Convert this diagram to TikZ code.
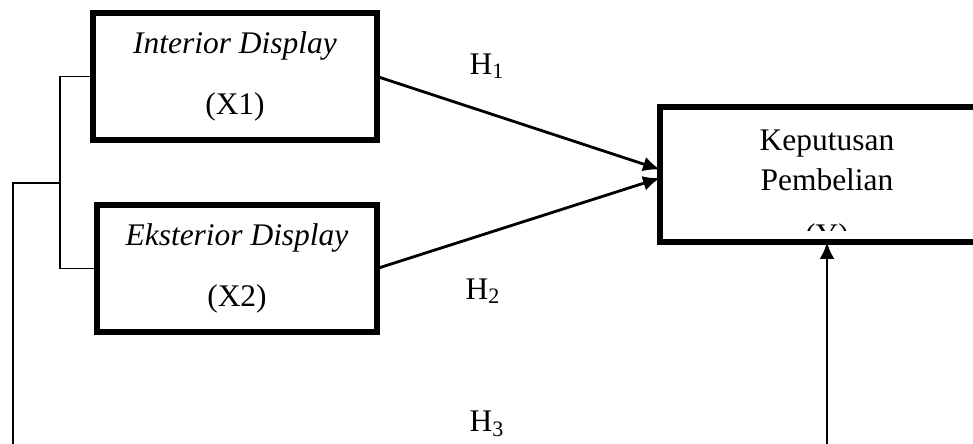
\documentclass[tikz,border=0pt]{standalone}
\usepackage{fontspec}
\setmainfont{Liberation Serif}
\usetikzlibrary{scopes,calc,positioning,arrows.meta}

\begin{document}
\begin{tikzpicture}[
    every node/.style = {font=\fontsize{17.9}{22.8}\selectfont},
    % Variable boxes
    varbox/.style  = {draw, line width=3pt, outer sep=0pt,
                      minimum height=2.54cm, align=center},
    kbox/.style    = {draw, line width=3pt, outer sep=0pt,
                      minimum width=6.68cm, minimum height=2.7cm},
    % Lines, arrows
    link/.style    = {line width=1.6pt, -{Latex[length=3.4mm,width=3mm]}},
    bracket/.style = {line width=1pt},
    hlabel/.style  = {inner sep=0pt}
  ]
\useasboundingbox (0,0) rectangle (19.46,8.86);
\clip (0,0) rectangle (19.46,8.86);

\node[varbox, minimum width=5.68cm] (intr) at (4.70,7.33)
     {\textit{Interior Display}\\[11.9pt](X1)};
\node[varbox, minimum width=5.60cm] (extr) at (4.74,3.49)
     {\textit{Eksterior Display}\\[11.9pt](X2)};
\node[kbox] (kp) at (16.54,5.37) {};
\node[align=center] (kptext) at (16.54,5.65) {Keputusan\\Pembelian};
{ [ ] \clip (13.3,4.24) rectangle (19.46,6.6);
  \node[anchor=base] (kpy) at (16.54,3.94) {(Y)}; }

%---------------------------------------------
\draw[link] (intr.east) -- ($(kp.west)+(0,0.1)$);
\draw[link] (extr.east) -- ($(kp.west)+(0,-0.07)$);

\node[hlabel] (h1) at (9.74,7.54) {H\textsubscript{1}};
\node[hlabel] (h2) at (9.66,3.04) {H\textsubscript{2}};
\node[hlabel] (h3) at (9.74,0.38) {H\textsubscript{3}};

% bracket round X1, X2
\draw[bracket] (intr.west) -- ++(-0.66,0) |- (extr.west);
\coordinate (brmid)    at (1.2,5.2);
\coordinate (lowleft)  at (0.26,-0.2);
\coordinate (lowright) at (16.54,-0.2);
\draw[bracket] (brmid) -| (lowleft);
\draw[link] (lowright) -- (kp.south);
\end{tikzpicture}
\end{document}
